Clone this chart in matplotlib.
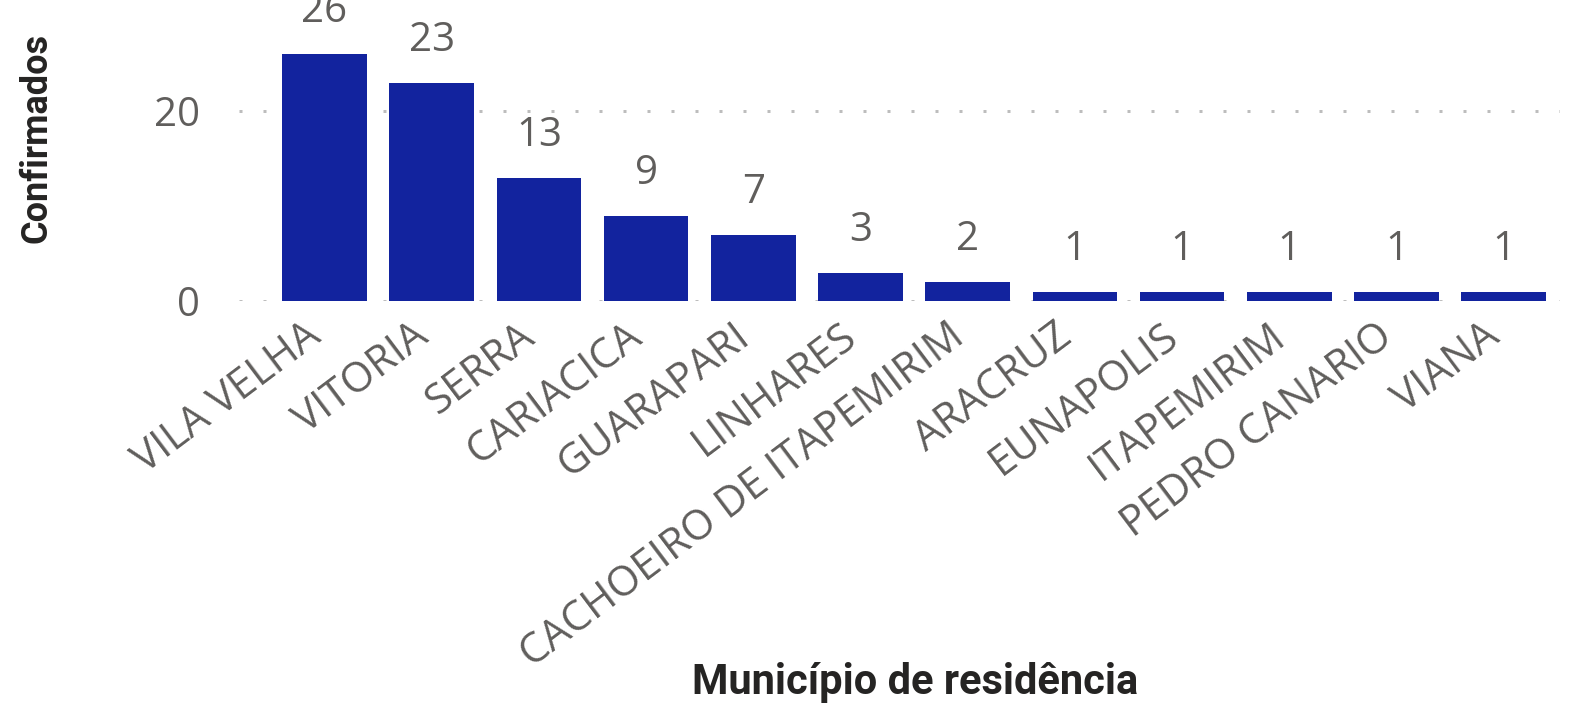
import matplotlib.pyplot as plt
from matplotlib.transforms import ScaledTranslation

# ── Data ──────────────────────────────────────────────────────────────────────
municipios = ["VILA VELHA", "VITORIA", "SERRA", "CARIACICA", "GUARAPARI",
              "LINHARES", "CACHOEIRO DE ITAPEMIRIM", "ARACRUZ", "EUNAPOLIS",
              "ITAPEMIRIM", "PEDRO CANARIO", "VIANA"]
confirmados = [26, 23, 13, 9, 7, 3, 2, 1, 1, 1, 1, 1]
yticks = [0, 20]

# ── Style ─────────────────────────────────────────────────────────────────────
BAR = "#12239E"
LABEL = "#605E5C"
TITLE = "#252423"
plt.rcParams["font.family"] = ["Open Sans", "DejaVu Sans"]

fig = plt.figure(figsize=(15.81, 7.04), dpi=100)
ax = fig.add_axes([0.151, 0.5724, 0.836, 0.4276])

x = range(len(municipios))
ax.bar(x, confirmados, width=0.79, color=BAR, zorder=3)

for xi, v in zip(x, confirmados):
    ax.annotate(str(v), (xi, v), xytext=(0, 23), textcoords="offset points",
                ha="center", va="baseline", fontsize=29, color=LABEL,
                annotation_clip=False)

for y in yticks:
    ax.axhline(y, color="#BDBDBD", lw=2.16, ls=(0, (1, 7)), zorder=1)

ax.set_xlim(-0.8, 11.53)
ax.set_ylim(0, 31.7)
ax.set_yticks(yticks)
ax.set_yticklabels([str(t) for t in yticks], fontsize=29, color=LABEL)
ax.set_xticks(list(x))
ax.set_xticklabels(municipios, fontsize=30, color=LABEL, rotation=37,
                   ha="right", va="center", rotation_mode="anchor")
ax.tick_params(axis="y", length=0, pad=28)
ax.tick_params(axis="x", length=0, pad=22)
# nudge category labels slightly left, as in the reference
shift = ScaledTranslation(-6 / 72, 0, fig.dpi_scale_trans)
for lbl in ax.get_xticklabels():
    lbl.set_transform(lbl.get_transform() + shift)
for s in ax.spines.values():
    s.set_visible(False)

fig.text(0.0234, 0.804, "Confirmados", rotation=90, ha="center", va="center",
         fontsize=26, fontweight="bold", color=TITLE,
         family=["Roboto", "DejaVu Sans"])
fig.text(0.579, 0.03, "Município de residência", ha="center", va="center",
         fontsize=30, fontweight="bold", color=TITLE,
         family=["Roboto", "DejaVu Sans"])

fig.savefig("out.png", dpi=100)
